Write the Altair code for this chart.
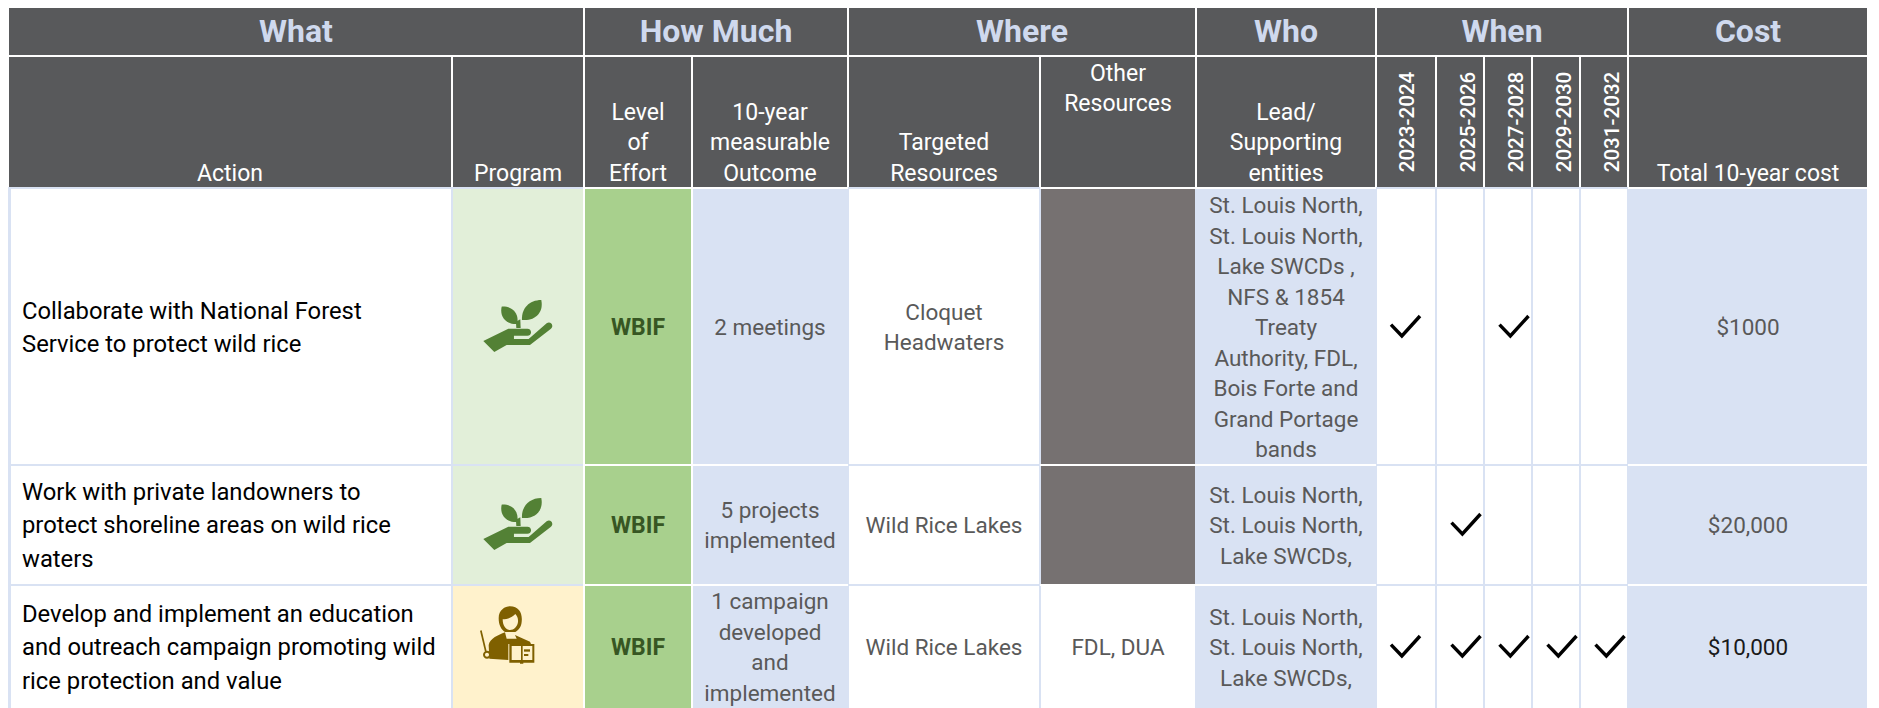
import re
import altair as alt
import pandas as pd

# ---- table content ----
group_titles = ["What", "How Much", "Where", "Who", "When", "Cost"]
column_titles = [["Action"], ["Program"], ["Level", "of", "Effort"],
                 ["10-year", "measurable", "Outcome"], ["Targeted", "Resources"],
                 ["Other", "Resources"], ["Lead/", "Supporting", "entities"]]
cost_title = "Total 10-year cost"
periods = ["2023-2024", "2025-2026", "2027-2028", "2029-2030", "2031-2032"]
actions = [["Collaborate with National Forest", "Service to protect wild rice"],
           ["Work with private landowners to", "protect shoreline areas on wild rice", "waters"],
           ["Develop and implement an education", "and outreach campaign promoting wild", "rice protection and value"]]
efforts = ["WBIF", "WBIF", "WBIF"]
outcomes = [["2 meetings"], ["5 projects", "implemented"],
            ["1 campaign", "developed", "and", "implemented"]]
targeted = [["Cloquet", "Headwaters"], ["Wild Rice Lakes"], ["Wild Rice Lakes"]]
other_res = [None, None, ["FDL, DUA"]]
leads = [["St. Louis North,", "St. Louis North,", "Lake SWCDs ,", "NFS & 1854", "Treaty",
          "Authority, FDL,", "Bois Forte and", "Grand Portage", "bands"],
         ["St. Louis North,", "St. Louis North,", "Lake SWCDs,"],
         ["St. Louis North,", "St. Louis North,", "Lake SWCDs,"]]
schedule = [[1, 0, 1, 0, 0], [0, 1, 0, 0, 0], [1, 1, 1, 1, 1]]
costs = ["$1000", "$20,000", "$10,000"]
program_icon = ["plant", "plant", "teacher"]

# ---- layout (page pixels) ----
col_x = [(9, 451), (453, 583), (585, 691), (693, 847), (849, 1039), (1041, 1195), (1197, 1375)]
year_x = [(1377, 1435), (1437, 1483), (1485, 1531), (1533, 1579), (1581, 1627)]
year_mark_x = [1405.5, 1466, 1514, 1562, 1610]
cost_x = (1629, 1867)
group_x = [(9, 583), (585, 847), (849, 1195), (1197, 1375), (1377, 1627), (1629, 1867)]
head1_y = (8, 55)
head2_y = (57, 187)
row_y = [(189, 464), (466, 584), (586, 708)]
row_mid = [328.2, 526.2, 648.2]
LH = 30.5
LH_ACTION = 33.4

DARK = "#58595B"
BLUE = "#D9E2F3"
LGREEN = "#E2EFD9"
GREEN = "#A8D08D"
YELLOW = "#FFF2CC"
TAUPE = "#767171"
WHITE = "#FFFFFF"

rects = []
def rect(x0, x1, y0, y1, fill):
    rects.append(dict(x=x0, x2=x1, y=y0, y2=y1, fill=fill))

# body backdrop and white gaps
rect(8, 1867, 187, 708, BLUE)
for (x0, x1) in [(584, 848), (1040, 1376), (1628, 1867)]:
    for (y0, y1) in [(187, 189), (464, 466), (584, 586)]:
        rect(x0, x1, y0, y1, WHITE)
rect(691, 693, 187, 708, WHITE)
rect(583, 585, 187, 708, WHITE)

for (x0, x1) in group_x:
    rect(x0, x1, *head1_y, DARK)
for (x0, x1) in col_x + year_x + [cost_x]:
    rect(x0, x1, *head2_y, DARK)

for r, (y0, y1) in enumerate(row_y):
    rect(11, col_x[0][1], y0, y1, WHITE)
    rect(*col_x[1], y0, y1, LGREEN if program_icon[r] == "plant" else YELLOW)
    rect(*col_x[2], y0, y1, GREEN)
    rect(*col_x[3], y0, y1, BLUE)
    rect(*col_x[4], y0, y1, WHITE)
    rect(*col_x[5], y0, y1, TAUPE if other_res[r] is None else WHITE)
    rect(1195, col_x[6][1] + 1, y0, y1, BLUE)
    for (x0, x1) in year_x:
        rect(x0, x1, y0, y1, WHITE)
    rect(*cost_x, y0, y1, BLUE)

BODY = "Roboto"
styles = {
    "group": dict(font="Roboto", fontSize=32, fontWeight="bold", color="#CFD9EE"),
    "head": dict(font=BODY, fontSize=23, color=WHITE),
    "action": dict(font=BODY, fontSize=23.8, color="#000000", align="left"),
    "body": dict(font=BODY, fontSize=22.5, color="#595959"),
    "effort": dict(font=BODY, fontSize=23, fontWeight="bold", color="#375623"),
    "black": dict(font=BODY, fontSize=22.5, color="#1A1A1A"),
    "year": dict(font="Roboto", fontSize=20.6, fontWeight=500, color=WHITE, angle=270),
}

texts = []
def put(style, x, mid, lines, lh=LH):
    n = len(lines)
    for i, line in enumerate(lines):
        texts.append(dict(style=style, x=x, y=mid + (i - (n - 1) / 2) * lh, label=line))

for (x0, x1), t in zip(group_x, group_titles):
    put("group", (x0 + x1) / 2, 32, [t])

head_lines_y = {0: [173.5], 1: [173.5], 2: [113, 143, 173.5], 3: [113, 143, 173.5],
                4: [143, 173.5], 5: [74, 104], 6: [113, 143, 173.5]}
for c, lines in enumerate(column_titles):
    xm = sum(col_x[c]) / 2
    for line, yy in zip(lines, head_lines_y[c]):
        texts.append(dict(style="head", x=xm, y=yy, label=line))
put("head", sum(cost_x) / 2, 173.5, [cost_title])
for xm, p in zip(year_mark_x, periods):
    put("year", xm + 2.5, 122, [p])

for r, mid in enumerate(row_mid):
    put("action", 22, mid, actions[r], LH_ACTION)
    put("effort", sum(col_x[2]) / 2, mid, [efforts[r]])
    put("body", sum(col_x[3]) / 2, mid, outcomes[r])
    put("body", sum(col_x[4]) / 2, mid, targeted[r])
    if other_res[r]:
        put("body", sum(col_x[5]) / 2, mid, other_res[r])
    put("body", sum(col_x[6]) / 2, mid, leads[r])
    put("black" if r == 2 else "body", sum(cost_x) / 2, mid, [costs[r]])

# ---- icon glyphs, drawn in a 3x crop space and normalised to the symbol box ----
def norm(d, cx, cy, half):
    def sub(m):
        return f"{(float(m[1]) - cx) / half:.3f},{(float(m[2]) - cy) / half:.3f}"
    return re.sub(r"(-?[\d.]+),(-?[\d.]+)", sub, d)

def circle(cx, cy, r):
    k = 0.5523 * r
    return (f"M{cx-r},{cy} C{cx-r},{cy-k} {cx-k},{cy-r} {cx},{cy-r} C{cx+k},{cy-r} {cx+r},{cy-k} {cx+r},{cy} "
            f"C{cx+r},{cy+k} {cx+k},{cy+r} {cx},{cy+r} C{cx-k},{cy+r} {cx-r},{cy+k} {cx-r},{cy} Z")

PLANT_GREEN = "#538135"
plant_parts = [
    ("M130,183 L205,146 L262,146 C277,146 277,167 262,167 L222,167 L222,177 L266,177 L320,130 "
     "C332,122 344,138 332,147 L270,195 L200,195 L163,216 Z", PLANT_GREEN),
    ("M185,80 C212,78 238,95 232,132 C203,134 178,115 185,80 Z", PLANT_GREEN),
    ("M304,60 C312,98 285,124 246,120 C244,85 268,60 304,60 Z", PLANT_GREEN),
    ("M228,125 L241,118 L242,144 L229,144 Z", PLANT_GREEN),
]
BROWN = "#7F6000"
teacher_parts = [
    ("M176,115 C176,90 195,79 210,79 C237,79 248,100 245,125 C244,140 236,150 226,156 L195,156 "
     "C184,150 176,135 176,115 Z", BROWN),
    ("M188,118 C202,118 216,112 226,102 C232,108 235,116 234,126 C232,140 222,150 210,150 C198,150 188,138 188,118 Z", YELLOW),
    ("M195,157 L200,176 L230,176 L225,165 L270,185 L273,192 L205,192 L205,240 L148,236 L146,195 C150,175 175,165 195,157 Z", BROWN),
    ("M208,192 L283,192 L283,248 L250,248 L250,251 L240,251 L240,248 L208,248 Z", BROWN),
    ("M215,198 L243,198 L243,240 L215,240 Z", YELLOW),
    ("M248,198 L277,198 L277,240 L248,240 Z", YELLOW),
    ("M252,208 L270,208 L270,215 L252,215 Z", BROWN),
    ("M252,222 L265,222 L265,228 L252,228 Z", BROWN),
    ("M120,152 L125,151 L140,214 L135,215 Z", BROWN),
    (circle(141, 224, 12), BROWN),
    (circle(141, 224, 6), YELLOW),
]
icons = {
    "plant": dict(parts=plant_parts, center=(232, 138), half=102.5, offset=(517.3, 0)),
    "teacher": dict(parts=teacher_parts, center=(201, 165), half=85, offset=(507, 0)),
}
icon_y = [326, 524, 635]
symbols = []
for r, name in enumerate(program_icon):
    ic = icons[name]
    size = (2 * ic["half"] / 3) ** 2
    for d, colour in ic["parts"]:
        symbols.append(dict(x=ic["offset"][0], y=icon_y[r], shape=norm(d, *ic["center"], ic["half"]),
                            size=size, fill=colour))

CHECK = "M-1,-0.1 L-0.25,0.69 L1,-0.69"
check_y = [326, 524, 646]
checks = []
for r, row in enumerate(schedule):
    for c, on in enumerate(row):
        if on:
            checks.append(dict(x=year_mark_x[c], y=check_y[r], shape=CHECK))

# ---- chart ----
W, H = 1863, 700
xs = alt.Scale(domain=[8, 8 + W], range=[0, W])
ys = alt.Scale(domain=[8, 8 + H], range=[0, H])
X = alt.X("x:Q", scale=xs, axis=None)
Y = alt.Y("y:Q", scale=ys, axis=None)

layers = [
    alt.Chart(pd.DataFrame(rects)).mark_rect(strokeWidth=0).encode(
        X, alt.X2("x2:Q"), Y, alt.Y2("y2:Q"), fill=alt.Fill("fill:N", scale=None)),
    alt.Chart(pd.DataFrame(symbols)).mark_point(filled=True, opacity=1, strokeWidth=0).encode(
        X, Y, shape=alt.Shape("shape:N", scale=None), size=alt.Size("size:Q", scale=None),
        fill=alt.Fill("fill:N", scale=None)),
    alt.Chart(pd.DataFrame(checks)).mark_point(filled=False, opacity=1, stroke="#000000", strokeWidth=3.4,
                                                size=841, fill=None).encode(
        X, Y, shape=alt.Shape("shape:N", scale=None)),
]
tdf = pd.DataFrame(texts)
for name, st in styles.items():
    kw = dict(align="center", baseline="middle")
    kw.update(st)
    layers.append(alt.Chart(tdf[tdf["style"] == name]).mark_text(**kw).encode(X, Y, text="label:N"))

chart = alt.layer(*layers).properties(
    width=W, height=H, padding=0, autosize=alt.AutoSizeParams(type="none")
).configure_view(stroke=None)

chart.save("out.html", embed_options={"renderer": "svg", "actions": False})
